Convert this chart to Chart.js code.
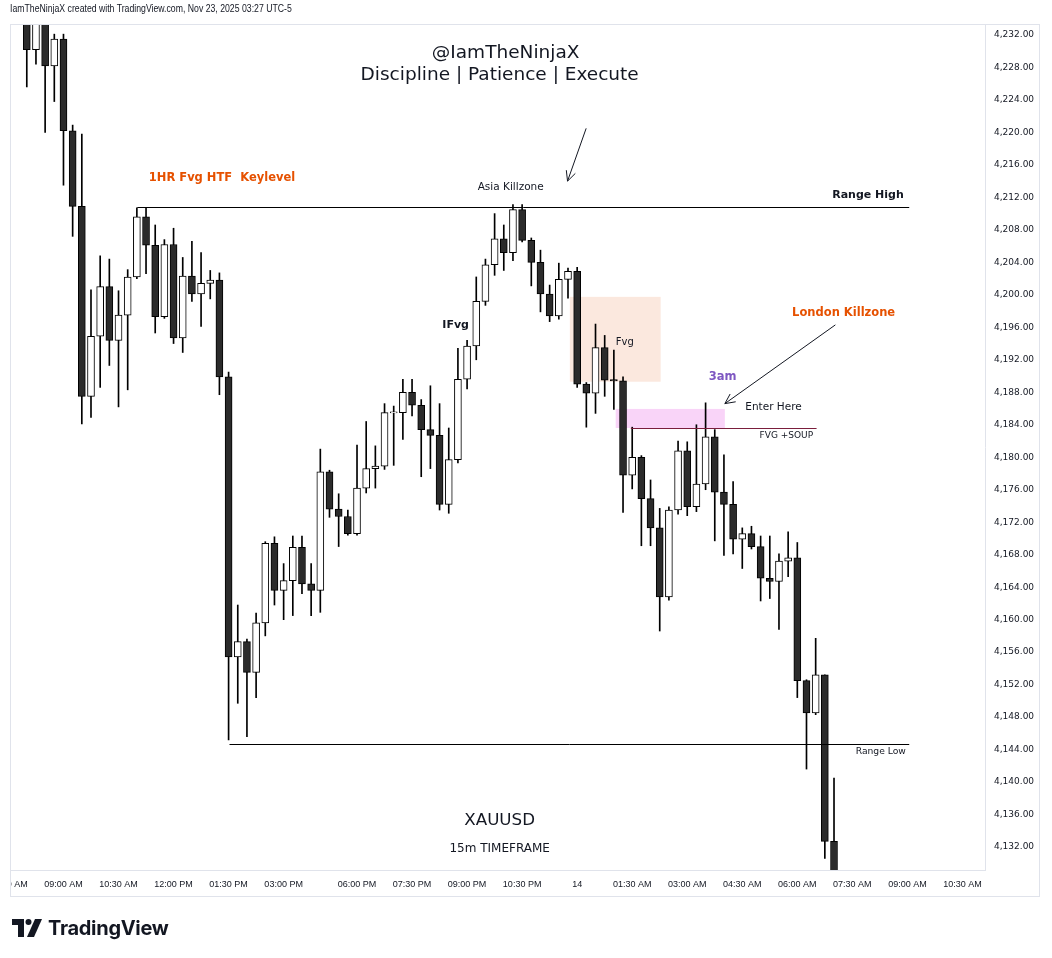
<!DOCTYPE html>
<html>
<head>
<meta charset="utf-8">
<script src="https://cdn.jsdelivr.net/npm/chart.js@4.4.0/dist/chart.umd.min.js"></script>
<style>
  html, body { margin: 0; padding: 0; background: #fff; }
  #wrap { position: relative; width: 1052px; height: 958px; overflow: hidden; }
  #chart { position: absolute; left: 0; top: 0; }
  .hdr { position: absolute; left: 10px; top: 3px; font: 10px 'Liberation Sans', sans-serif; color: #131722; white-space: nowrap; transform: scaleX(0.87); transform-origin: left top; }
  .logo { position: absolute; left: 12px; top: 915px; height: 26px; display: flex; align-items: center; }
  .logo span { font: bold 20px 'Inter', 'Roboto', sans-serif; color: #131722; margin-left: 6px; letter-spacing: -0.3px; }
</style>
</head>
<body>
<div id="wrap">
  <canvas id="chart" width="1052" height="958"></canvas>
  <div class="hdr">IamTheNinjaX created with TradingView.com, Nov 23, 2025 03:27 UTC-5</div>
  <div class="logo">
    <svg width="30" height="18" viewBox="0 0 30 18">
      <path d="M0 0 H12 V18 H6 V6 H0 Z" fill="#131722"/>
      <circle cx="16.5" cy="3" r="3" fill="#131722"/>
      <path d="M23 0 H30 L22 18 H15 Z" fill="#131722"/>
    </svg>
    <span>TradingView</span>
  </div>
</div>
<script>
// XAUUSD 15m candles, 08:00 AM (13th) .. 07:00 AM (14th), market gap 17:00-18:00 skipped
const opens = [
  4234.8, 4230.2, 4234.3, 4228.2, 4231.5, 4220.2, 4210.9, 4187.5, 4194.9, 4201.0,
  4194.4, 4197.5, 4202.2, 4209.6, 4206.1, 4197.3, 4206.2, 4194.7, 4202.3, 4200.1,
  4201.4, 4201.8, 4189.9, 4155.4, 4157.3, 4153.5, 4159.6, 4169.4, 4163.6, 4164.8,
  4168.9, 4164.4, 4163.6, 4178.2, 4173.6, 4172.7, 4170.6, 4176.2, 4178.6, 4178.9,
  4185.45, 4185.5, 4188.0, 4186.4, 4183.4, 4182.7, 4174.2, 4179.7, 4189.6, 4193.7,
  4199.2, 4203.7, 4206.9, 4205.2, 4210.5, 4206.7, 4204.0, 4200.1, 4197.4, 4201.9,
  4202.9, 4189.0, 4187.9, 4193.5, 4189.55, 4189.4, 4177.8, 4180.0, 4174.9, 4171.3,
  4162.8, 4173.5, 4180.8, 4173.9, 4176.7, 4182.5, 4175.7, 4174.2, 4169.9, 4170.6,
  4169.0, 4165.1, 4164.7, 4167.2, 4167.6, 4152.5, 4148.5, 4153.2, 4132.7
];
const highs = [
  4235.5, 4235.2, 4234.8, 4232.1, 4232.1, 4220.9, 4219.8, 4200.6, 4204.8, 4204.4,
  4200.5, 4203.1, 4210.7, 4210.7, 4208.6, 4206.8, 4208.2, 4204.6, 4206.6, 4205.2,
  4203.0, 4202.7, 4190.5, 4161.8, 4157.6, 4160.8, 4169.6, 4170.2, 4166.9, 4170.3,
  4170.3, 4166.9, 4181.0, 4178.4, 4175.5, 4173.5, 4181.5, 4184.4, 4181.4, 4186.6,
  4186.3, 4189.6, 4189.6, 4187.1, 4188.8, 4186.6, 4183.6, 4193.4, 4194.4, 4202.2,
  4204.4, 4210.0, 4208.6, 4211.1, 4211.1, 4207.0, 4205.5, 4201.2, 4203.9, 4203.3,
  4203.4, 4189.2, 4196.4, 4195.0, 4193.2, 4189.9, 4183.7, 4180.2, 4177.2, 4173.7,
  4173.9, 4182.0, 4181.9, 4184.0, 4186.7, 4183.4, 4180.3, 4177.0, 4171.3, 4171.5,
  4170.3, 4170.3, 4168.1, 4170.8, 4169.5, 4152.6, 4157.7, 4153.2, 4140.5
];
const lows = [
  4225.6, 4228.4, 4220.0, 4223.8, 4213.5, 4207.2, 4184.1, 4184.9, 4188.6, 4191.3,
  4186.2, 4188.3, 4202.0, 4202.6, 4195.3, 4197.1, 4194.0, 4192.9, 4199.2, 4196.1,
  4199.5, 4187.7, 4145.2, 4149.7, 4145.6, 4150.4, 4158.0, 4161.8, 4160.0, 4160.5,
  4163.2, 4160.5, 4160.9, 4172.6, 4169.0, 4170.4, 4170.4, 4175.6, 4176.2, 4178.5,
  4179.0, 4182.2, 4185.1, 4177.6, 4178.6, 4173.5, 4173.1, 4179.3, 4188.4, 4192.0,
  4198.7, 4202.4, 4203.0, 4204.2, 4206.5, 4201.1, 4197.9, 4196.7, 4197.0, 4199.6,
  4188.6, 4183.7, 4185.4, 4187.5, 4185.9, 4173.2, 4176.1, 4169.1, 4169.1, 4158.6,
  4162.4, 4173.0, 4172.8, 4173.3, 4176.0, 4169.7, 4167.9, 4168.1, 4166.3, 4168.7,
  4162.3, 4162.6, 4158.8, 4165.3, 4150.4, 4141.6, 4148.3, 4130.6, 4127.0
];
const closes = [
  4230.2, 4234.3, 4228.2, 4231.5, 4220.2, 4210.9, 4187.5, 4194.9, 4201.0, 4194.4,
  4197.5, 4202.2, 4209.6, 4206.1, 4197.3, 4206.2, 4194.7, 4202.3, 4200.1, 4201.4,
  4201.8, 4189.9, 4155.4, 4157.3, 4153.5, 4159.6, 4169.4, 4163.6, 4164.8, 4168.9,
  4164.4, 4163.6, 4178.2, 4173.6, 4172.7, 4170.6, 4176.2, 4178.6, 4178.9, 4185.5,
  4185.6, 4188.0, 4186.4, 4183.4, 4182.7, 4174.2, 4179.7, 4189.6, 4193.7, 4199.2,
  4203.7, 4206.9, 4205.2, 4210.5, 4206.7, 4204.0, 4200.1, 4197.4, 4201.9, 4202.9,
  4189.0, 4187.9, 4193.5, 4189.5, 4189.4, 4177.8, 4180.0, 4174.9, 4171.3, 4162.8,
  4173.5, 4180.8, 4173.9, 4176.7, 4182.5, 4175.7, 4174.2, 4169.9, 4170.6, 4169.0,
  4165.1, 4164.7, 4167.2, 4167.6, 4152.5, 4148.5, 4153.2, 4132.7, 4128.5
];

const timeTickIdx = [-2, 4, 10, 16, 22, 28, 36, 42, 48, 54, 60, 66, 72, 78, 84, 90, 96, 102];
const timeTickLabels = ['07:30 AM', '09:00 AM', '10:30 AM', '12:00 PM', '01:30 PM', '03:00 PM', '06:00 PM',
  '07:30 PM', '09:00 PM', '10:30 PM', '14', '01:30 AM', '03:00 AM', '04:30 AM', '06:00 AM',
  '07:30 AM', '09:00 AM', '10:30 AM'];
const priceTicks = [4132, 4136, 4140, 4144, 4148, 4152, 4156, 4160, 4164, 4168, 4172, 4176,
  4180, 4184, 4188, 4192, 4196, 4200, 4204, 4208, 4212, 4216, 4220, 4224, 4228, 4232];

// drawings on the chart, in bar index / price coordinates
const boxes = [
  { x1: 59.2, x2: 69.1, y1: 4199.75, y2: 4189.3, color: '#fbe8de' },
  { x1: 64.2, x2: 76.1, y1: 4185.95, y2: 4183.6, color: '#f9d4f8' }
];
const hlines = [
  { x1: 12.05, x2: 96.2, y: 4210.85, color: '#000000' },
  { x1: 22.1, x2: 96.2, y: 4144.68, color: '#000000' },
  { x1: 65.85, x2: 86.1, y: 4183.6, color: '#7a1e3c' }
];
const arrows = [
  { x1: 60.98, y1: 4220.5, x2: 58.95, y2: 4214.0 },
  { x1: 88.15, y1: 4196.3, x2: 76.1, y2: 4186.6 }
];
const F = '"DejaVu Sans"';
const notes = [
  { text: '@IamTheNinjaX', x: 52.2, y: 4229.75, font: '18.5px ' + F, color: '#131722', align: 'center' },
  { text: 'Discipline | Patience | Execute', x: 51.55, y: 4227.05, font: '18.5px ' + F, color: '#131722', align: 'center' },
  { text: 'Asia Killzone', x: 52.75, y: 4213.3, font: '10.5px ' + F, color: '#131722', align: 'center' },
  { text: '1HR Fvg HTF  Keylevel', x: 13.3, y: 4214.4, font: 'bold 11.5px ' + F, color: '#e65100', align: 'left' },
  { text: 'Range High', x: 95.6, y: 4212.3, font: 'bold 11px ' + F, color: '#131722', align: 'right' },
  { text: 'IFvg', x: 46.75, y: 4196.3, font: 'bold 11px ' + F, color: '#131722', align: 'center' },
  { text: 'Fvg', x: 65.2, y: 4194.1, font: '10px ' + F, color: '#131722', align: 'center' },
  { text: 'London Killzone', x: 89.05, y: 4197.8, font: 'bold 11.5px ' + F, color: '#e65100', align: 'center' },
  { text: '3am', x: 75.85, y: 4189.9, font: 'bold 11.5px ' + F, color: '#7e57c2', align: 'center' },
  { text: 'Enter Here', x: 81.4, y: 4186.2, font: '10.5px ' + F, color: '#131722', align: 'center' },
  { text: 'FVG +SOUP', x: 82.8, y: 4182.6, font: '9px ' + F, color: '#131722', align: 'center' },
  { text: 'Range Low', x: 93.1, y: 4143.7, font: '9.2px ' + F, color: '#131722', align: 'center' },
  { text: 'XAUUSD', x: 51.55, y: 4135.2, font: '16.7px ' + F, color: '#131722', align: 'center' },
  { text: '15m TIMEFRAME', x: 51.55, y: 4131.75, font: '12px ' + F, color: '#131722', align: 'center' }
];

const bodies = opens.map((o, i) => ({ x: i, y: [o, closes[i]] }));
const wicks = lows.map((l, i) => ({ x: i, y: [l, highs[i]] }));
const bodyColors = opens.map((o, i) => closes[i] < o ? '#2b2b2b' : '#ffffff');

const drawings = {
  id: 'drawings',
  beforeDatasetsDraw(chart) {
    const { ctx, scales: { x, y } } = chart;
    ctx.save();
    boxes.forEach(b => {
      const px1 = x.getPixelForValue(b.x1), px2 = x.getPixelForValue(b.x2);
      const py1 = y.getPixelForValue(b.y1), py2 = y.getPixelForValue(b.y2);
      ctx.fillStyle = b.color;
      ctx.fillRect(px1, py1, px2 - px1, py2 - py1);
    });
    ctx.restore();
  },
  afterDatasetsDraw(chart) {
    const { ctx, scales: { x, y } } = chart;
    ctx.save();
    ctx.lineWidth = 1;
    hlines.forEach(l => {
      const py = Math.round(y.getPixelForValue(l.y)) + 0.5;
      ctx.strokeStyle = l.color;
      ctx.beginPath();
      ctx.moveTo(x.getPixelForValue(l.x1), py);
      ctx.lineTo(x.getPixelForValue(l.x2), py);
      ctx.stroke();
    });
    ctx.strokeStyle = '#131722';
    arrows.forEach(a => {
      const x1 = x.getPixelForValue(a.x1), y1 = y.getPixelForValue(a.y1);
      const x2 = x.getPixelForValue(a.x2), y2 = y.getPixelForValue(a.y2);
      const ang = Math.atan2(y2 - y1, x2 - x1);
      ctx.beginPath();
      ctx.moveTo(x1, y1);
      ctx.lineTo(x2, y2);
      ctx.moveTo(x2 - 11 * Math.cos(ang - 0.45), y2 - 11 * Math.sin(ang - 0.45));
      ctx.lineTo(x2, y2);
      ctx.lineTo(x2 - 11 * Math.cos(ang + 0.45), y2 - 11 * Math.sin(ang + 0.45));
      ctx.stroke();
    });
    ctx.textBaseline = 'middle';
    notes.forEach(n => {
      ctx.font = n.font;
      ctx.fillStyle = n.color;
      ctx.textAlign = n.align;
      ctx.fillText(n.text, x.getPixelForValue(n.x), y.getPixelForValue(n.y));
    });
    ctx.restore();
  },
  afterDraw(chart) {
    const ctx = chart.ctx;
    ctx.save();
    // the first time label is cut by the pane edge
    ctx.fillStyle = '#ffffff';
    ctx.fillRect(0, 871, 10, 26);
    // outer frame of the TradingView pane
    ctx.strokeStyle = '#e0e3eb';
    ctx.lineWidth = 1;
    ctx.strokeRect(10.5, 24.5, 1029, 872);
    ctx.restore();
  }
};

new Chart(document.getElementById('chart'), {
  type: 'bar',
  data: {
    datasets: [
      {
        label: 'body',
        data: bodies,
        backgroundColor: bodyColors,
        borderColor: '#000000',
        borderWidth: 1,
        borderSkipped: false,
        barThickness: 7,
        grouped: false,
        order: 0
      },
      {
        label: 'wick',
        data: wicks,
        backgroundColor: '#000000',
        borderWidth: 0,
        barThickness: 1,
        grouped: false,
        order: 1
      }
    ]
  },
  options: {
    responsive: false,
    animation: false,
    layout: { padding: { left: 10, top: 24, right: 12, bottom: 61 } },
    plugins: { legend: { display: false }, tooltip: { enabled: false } },
    scales: {
      x: {
        type: 'linear',
        min: -1.83,
        max: 104.46,
        offset: false,
        grid: { display: false, drawTicks: false },
        border: { display: true, color: '#e0e3eb' },
        afterBuildTicks: s => { s.ticks = timeTickIdx.map(v => ({ value: v })); },
        afterFit: s => { s.height = 27; s.paddingLeft = 0; s.paddingRight = 0; },
        ticks: {
          autoSkip: false,
          maxRotation: 0,
          padding: 9,
          color: '#131722',
          font: { family: 'Liberation Sans', size: 9 },
          callback: v => timeTickLabels[timeTickIdx.indexOf(v)]
        }
      },
      y: {
        position: 'right',
        min: 4129.17,
        max: 4233.35,
        grid: { display: false, drawTicks: false },
        border: { display: true, color: '#e0e3eb' },
        afterBuildTicks: s => { s.ticks = priceTicks.map(v => ({ value: v })); },
        afterFit: s => { s.width = 55; },
        ticks: {
          padding: 9,
          color: '#131722',
          font: { family: 'DejaVu Sans', size: 9 },
          callback: v => v.toLocaleString('en-US', { minimumFractionDigits: 2, maximumFractionDigits: 2 })
        }
      }
    }
  },
  plugins: [drawings]
});
</script>
</body>
</html>
